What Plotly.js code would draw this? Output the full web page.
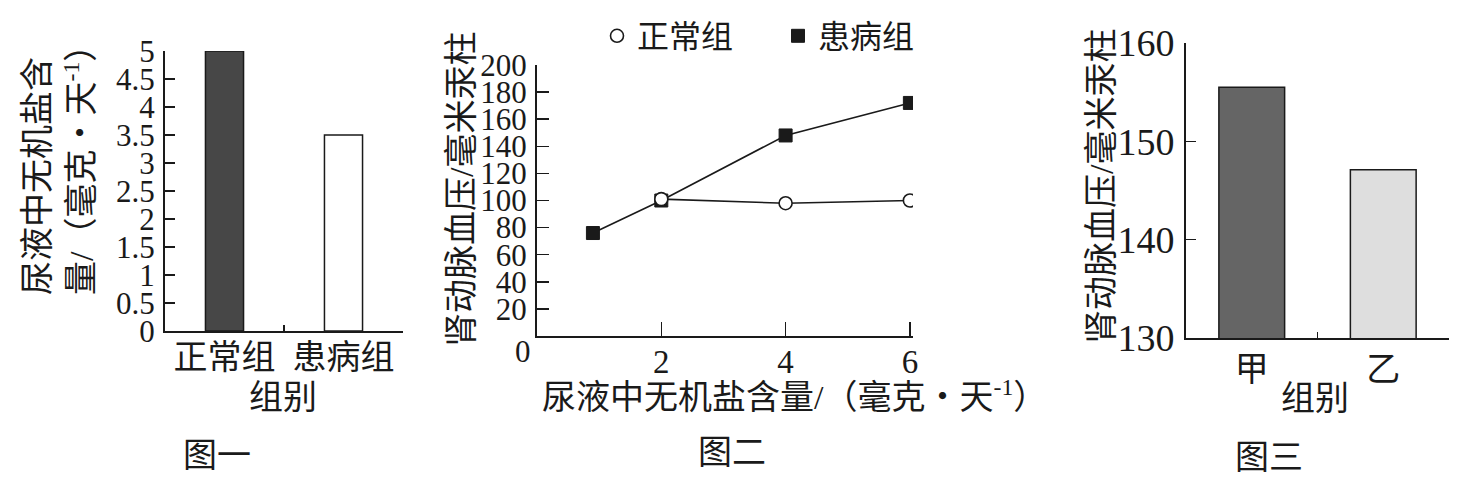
<!DOCTYPE html>
<html>
<head>
<meta charset="utf-8">
<script src="https://cdn.plot.ly/plotly-3.0.1.min.js"></script>
<style>html,body{margin:0;padding:0;background:#fff;}#chart{width:1481px;height:482px;}</style>
</head>
<body>
<div id="chart"></div>
<script>
// ---- data ----
const fig1Categories = ['正常组', '患病组'];
const fig1Values = [5, 3.5];
const fig1Colors = ['#474747', '#ffffff'];

const fig2NormalName = '正常组';
const fig2NormalX = [2, 4, 6];
const fig2NormalY = [101, 98, 100];
const fig2PatientName = '患病组';
const fig2PatientX = [0.9, 2, 4, 6];
const fig2PatientY = [76, 100, 148, 172];
const fig2XTicks = [2, 4, 6];
const fig2YTicks = [20, 40, 60, 80, 100, 120, 140, 160, 180, 200];

const fig3Categories = ['甲', '乙'];
const fig3Values = [155.5, 147.1];
const fig3Colors = ['#656565', '#dedede'];
const fig3YTicks = [130, 140, 150, 160];

const FONT = "'Liberation Serif', 'Noto Sans CJK SC', serif";
const CJK = "'Liberation Serif', 'Noto Sans CJK SC', sans-serif";
const INK = '#1a1a1a';
const CJK_SIZE = 34;

const W = 1481, H = 482;
const px = v => v / W;
const py = v => 1 - v / H;

const traces = [
  {
    type: 'bar', x: fig1Categories, y: fig1Values, xaxis: 'x', yaxis: 'y',
    width: 0.32, marker: {color: fig1Colors, line: {color: INK, width: 1.5}},
    showlegend: false, hoverinfo: 'skip'
  },
  {
    type: 'scatter', mode: 'lines', x: fig2PatientX, y: fig2PatientY, xaxis: 'x2', yaxis: 'y2',
    line: {color: INK, width: 1.6}, showlegend: false, hoverinfo: 'skip'
  },
  {
    type: 'scatter', mode: 'lines', x: fig2NormalX, y: fig2NormalY, xaxis: 'x2', yaxis: 'y2',
    line: {color: INK, width: 1.6}, showlegend: false, hoverinfo: 'skip'
  },
  {
    type: 'scatter', mode: 'markers', name: fig2PatientName, x: fig2PatientX, y: fig2PatientY,
    xaxis: 'x2', yaxis: 'y2', legend: 'legend2',
    marker: {symbol: 'square', size: 13, color: INK, line: {color: INK, width: 1}},
    hoverinfo: 'skip'
  },
  {
    type: 'scatter', mode: 'markers', name: fig2NormalName, x: fig2NormalX, y: fig2NormalY,
    xaxis: 'x2', yaxis: 'y2', legend: 'legend',
    marker: {symbol: 'circle', size: 13, color: '#ffffff', line: {color: INK, width: 1.6}},
    hoverinfo: 'skip'
  },
  {
    type: 'bar', x: fig3Categories, y: fig3Values, xaxis: 'x3', yaxis: 'y3',
    width: 0.5, marker: {color: fig3Colors, line: {color: INK, width: 1.5}},
    showlegend: false, hoverinfo: 'skip'
  }
];

const axisBase = {
  showline: true, linecolor: INK, linewidth: 2, showgrid: false, zeroline: false,
  ticks: 'inside', tickcolor: INK, tickwidth: 1.5, fixedrange: true
};

const layout = {
  width: W, height: H,
  margin: {l: 0, r: 0, t: 0, b: 0},
  paper_bgcolor: '#ffffff', plot_bgcolor: '#ffffff',
  font: {family: FONT, color: INK, size: 30},
  hovermode: false,
  bargap: 0,
  xaxis: Object.assign({}, axisBase, {
    domain: [px(165), px(403)], anchor: 'y', type: 'category', range: [-0.5, 1.5],
    tickson: 'boundaries', ticklen: 6, tickfont: {family: CJK, size: CJK_SIZE}, ticklabelstandoff: -5
  }),
  yaxis: Object.assign({}, axisBase, {
    domain: [py(331), py(51)], anchor: 'x', range: [0, 5], dtick: 0.5, ticklen: 10,
    tickfont: {family: FONT, size: 31}, ticklabelstandoff: 2
  }),
  xaxis2: Object.assign({}, axisBase, {
    domain: [px(537), px(913)], anchor: 'y2', range: [0, 6.05], tickvals: fig2XTicks, ticklen: 14,
    tickfont: {family: FONT, size: 33}, ticklabelstandoff: -5
  }),
  yaxis2: Object.assign({}, axisBase, {
    domain: [py(336), py(65)], anchor: 'x2', range: [0, 200], tickvals: fig2YTicks, ticklen: 12,
    tickfont: {family: FONT, size: 31}, ticklabelstandoff: 2
  }),
  xaxis3: Object.assign({}, axisBase, {
    domain: [px(1186), px(1449)], anchor: 'y3', type: 'category', range: [-0.5, 1.5],
    tickson: 'boundaries', ticklen: 6, tickfont: {family: CJK, size: CJK_SIZE}, ticklabelstandoff: 0
  }),
  yaxis3: Object.assign({}, axisBase, {
    domain: [py(338), py(43)], anchor: 'x3', range: [130, 160], tickvals: fig3YTicks, ticklen: 10,
    tickfont: {family: FONT, size: 38}, ticklabelstandoff: 2
  }),
  legend: {
    orientation: 'h', x: px(597), y: py(36), xanchor: 'left', yanchor: 'middle',
    bgcolor: 'rgba(0,0,0,0)', font: {family: CJK, size: 32}, itemwidth: 30
  },
  legend2: {
    orientation: 'h', x: px(778), y: py(36), xanchor: 'left', yanchor: 'middle',
    bgcolor: 'rgba(0,0,0,0)', font: {family: CJK, size: 32}, itemwidth: 30
  },
  annotations: [
    {xref: 'paper', yref: 'paper', x: px(59), y: py(162), xanchor: 'center', yanchor: 'middle',
     text: '尿液中无机盐含<br>量/（毫克・天<sup>-1</sup>）', textangle: -90, align: 'left', showarrow: false,
     font: {family: CJK, size: CJK_SIZE}},
    {xref: 'paper', yref: 'paper', x: px(283), y: py(397), xanchor: 'center', yanchor: 'middle',
     text: '组别', showarrow: false, font: {family: CJK, size: CJK_SIZE}},
    {xref: 'paper', yref: 'paper', x: px(217), y: py(455), xanchor: 'center', yanchor: 'middle',
     text: '图一', showarrow: false, font: {family: CJK, size: CJK_SIZE}},

    {xref: 'paper', yref: 'paper', x: px(462), y: py(190), xanchor: 'center', yanchor: 'middle',
     text: '肾动脉血压/毫米汞柱', textangle: -90, showarrow: false, font: {family: CJK, size: CJK_SIZE}},
    {xref: 'x2', yref: 'y2', x: 0, y: 0, xanchor: 'right', yanchor: 'middle', xshift: -4, yshift: -15,
     text: '0', showarrow: false, font: {family: FONT, size: 31}},
    {xref: 'paper', yref: 'paper', x: px(794), y: py(395), xanchor: 'center', yanchor: 'middle',
     text: '尿液中无机盐含量/（毫克・天<sup>-1</sup>）', showarrow: false, font: {family: CJK, size: CJK_SIZE}},
    {xref: 'paper', yref: 'paper', x: px(732), y: py(452), xanchor: 'center', yanchor: 'middle',
     text: '图二', showarrow: false, font: {family: CJK, size: CJK_SIZE}},

    {xref: 'paper', yref: 'paper', x: px(1102), y: py(187), xanchor: 'center', yanchor: 'middle',
     text: '肾动脉血压/毫米汞柱', textangle: -90, showarrow: false, font: {family: CJK, size: CJK_SIZE}},
    {xref: 'paper', yref: 'paper', x: px(1315), y: py(398), xanchor: 'center', yanchor: 'middle',
     text: '组别', showarrow: false, font: {family: CJK, size: CJK_SIZE}},
    {xref: 'paper', yref: 'paper', x: px(1269), y: py(457), xanchor: 'center', yanchor: 'middle',
     text: '图三', showarrow: false, font: {family: CJK, size: CJK_SIZE}}
  ]
};

Plotly.newPlot('chart', traces, layout, {staticPlot: true, displayModeBar: false});
</script>
</body>
</html>
